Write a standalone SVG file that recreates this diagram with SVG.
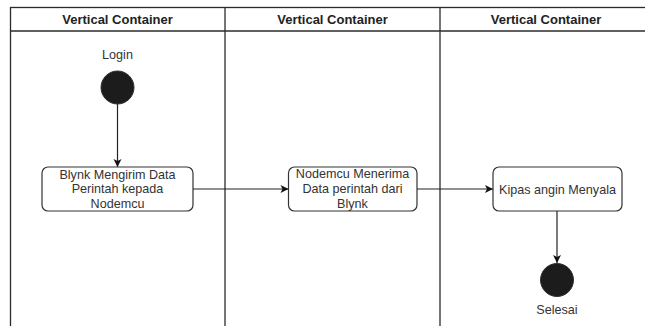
<svg xmlns="http://www.w3.org/2000/svg" width="645" height="326" viewBox="0 0 645 326">
<defs>
<style>
.lane{fill:none;stroke:#2b2b2b;stroke-width:1.3}
.hdr{font-family:"Liberation Sans",Arial,sans-serif;font-size:13px;font-weight:bold;fill:#222;text-anchor:middle}
.lbl{font-family:"Liberation Sans",Arial,sans-serif;font-size:12.6px;fill:#333;text-anchor:middle}
.act{fill:#fff;stroke:#333;stroke-width:1.2}
.dot{fill:#1c1c1c;stroke:#333;stroke-width:1}
.edge{fill:none;stroke:#222;stroke-width:1.2}
</style>
<marker id="arr" markerWidth="10" markerHeight="10" refX="9" refY="5" orient="auto" markerUnits="userSpaceOnUse">
<path d="M1,1 L9,5 L1,9 L3,5 Z" fill="#111"/>
</marker>
</defs>
<rect width="645" height="326" fill="#fff"/>
<g id="lanes">
<rect class="lane" x="10.5" y="7.5" width="660" height="340"/>
<line class="lane" x1="10.5" y1="31" x2="650" y2="31"/>
<line class="lane" x1="225" y1="7.5" x2="225" y2="330"/>
<line class="lane" x1="440" y1="7.5" x2="440" y2="330"/>
<text class="hdr" x="117.5" y="24">Vertical Container</text>
<text class="hdr" x="332.5" y="24">Vertical Container</text>
<text class="hdr" x="546" y="24">Vertical Container</text>
</g>
<g id="edges">
<line class="edge" x1="117.5" y1="104" x2="117.5" y2="167" marker-end="url(#arr)"/>
<line class="edge" x1="193" y1="189" x2="288.5" y2="189" marker-end="url(#arr)"/>
<line class="edge" x1="417" y1="189" x2="493" y2="189" marker-end="url(#arr)"/>
<line class="edge" x1="557" y1="211" x2="557" y2="263" marker-end="url(#arr)"/>
</g>
<g id="start">
<text class="lbl" x="117.5" y="58.5">Login</text>
<circle class="dot" cx="117.5" cy="87.5" r="16.5"/>
</g>
<g id="blynk">
<rect class="act" x="42" y="167" width="151" height="44" rx="6"/>
<text class="lbl" x="117.5" y="178.5">Blynk Mengirim Data</text>
<text class="lbl" x="117.5" y="193">Perintah kepada</text>
<text class="lbl" x="117.5" y="208">Nodemcu</text>
</g>
<g id="nodemcu">
<rect class="act" x="288.5" y="167" width="128.5" height="44" rx="6"/>
<text class="lbl" x="352.5" y="178">Nodemcu Menerima</text>
<text class="lbl" x="352.5" y="193">Data perintah dari</text>
<text class="lbl" x="352.5" y="208">Blynk</text>
</g>
<g id="kipas">
<rect class="act" x="493" y="167" width="129" height="44" rx="6"/>
<text class="lbl" x="557.5" y="193.5">Kipas angin Menyala</text>
</g>
<g id="end">
<circle class="dot" cx="557" cy="280" r="16.5"/>
<text class="lbl" x="557" y="313.5">Selesai</text>
</g>
</svg>
